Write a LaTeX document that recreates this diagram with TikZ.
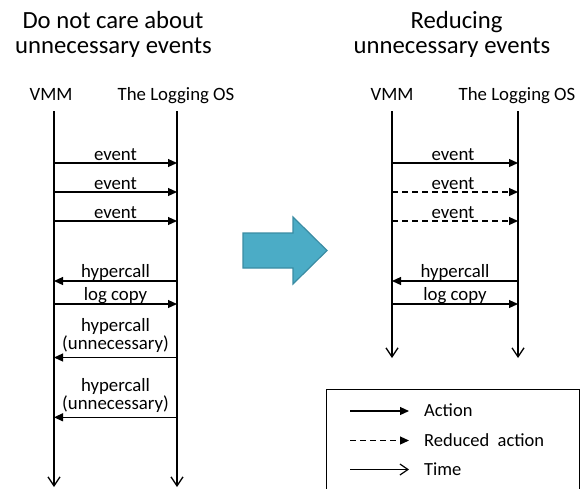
\documentclass[tikz,border=0pt]{standalone}
\usepackage{fontspec}
\setmainfont{Carlito}
\usetikzlibrary{arrows.meta}
\definecolor{bigarrowfill}{HTML}{4BACC6}
\definecolor{bigarrowline}{HTML}{3A8CA3}

\begin{document}
\begin{tikzpicture}[x=1pt,y=-1pt,
  lifeline/.style={line width=1.4pt, -{Straight Barb[length=9pt,width=12pt,line width=1.3pt]}},
  msg/.style={line width=1.2pt, -{Triangle[length=9pt,width=8pt]}},
  reduced/.style={msg, dash pattern=on 6pt off 4pt},
  lbl/.style={font=\fontsize{18.8}{16}\selectfont, anchor=base, inner sep=0pt, align=center},
  head/.style={font=\fontsize{18.8}{20}\selectfont, anchor=base, inner sep=0pt},
  ttl/.style={font=\fontsize{24.7}{28}\selectfont, anchor=base, inner sep=0pt},
  legtxt/.style={font=\fontsize{18.5}{20}\selectfont, anchor=base west, inner sep=0pt},
]
\clip (0,0) rectangle (581,488);

% ---------- titles ----------
\node[ttl] (t1a) at (113,28) {Do not care about};
\node[ttl] (t1b) at (113.5,53.5) {unnecessary events};
\node[ttl] (t2a) at (456.5,28) {Reducing};
\node[ttl] (t2b) at (452,53.5) {unnecessary events};

% ---------- participant headers ----------
\node[head] (vmmA) at (51,100) {VMM};
\node[head] (osA)  at (176,100) {The Logging OS};
\node[head] (vmmB) at (392,100) {VMM};
\node[head] (osB)  at (517,100) {The Logging OS};

% ---------- lifelines ----------
\coordinate (vA) at (54,111);  \coordinate (vAend) at (54,487);
\coordinate (oA) at (177,111); \coordinate (oAend) at (177,487);
\coordinate (vB) at (392,111); \coordinate (vBend) at (392,358);
\coordinate (oB) at (518,111); \coordinate (oBend) at (518,358);
\draw[lifeline] (vA) -- (vAend);
\draw[lifeline] (oA) -- (oAend);
\draw[lifeline] (vB) -- (vBend);
\draw[lifeline] (oB) -- (oBend);

% ---------- left: every event is delivered ----------
\foreach \y/\n in {163/1,192/2,221/3}{
  \draw[msg] (vA |- 0,\y) -- (oA |- 0,\y);
  \node[lbl] (evA\n) at (115.5,\y-2.5) {event};
}
\draw[msg] (oA |- 0,281) -- (vA |- 0,281);
\node[lbl] (hcA) at (115.5,277.5) {hypercall};
\draw[msg] (vA |- 0,304) -- (oA |- 0,304);
\node[lbl] (lcA) at (115.5,300.5) {log copy};
% multi-line labels: base anchor sits on the last line
\draw[msg] (oA |- 0,357.5) -- (vA |- 0,357.5);
\node[lbl] (u1) at (115.5,349.3) {hypercall\\(unnecessary)};
\draw[msg] (oA |- 0,417.3) -- (vA |- 0,417.3);
\node[lbl] (u2) at (115.5,409.3) {hypercall\\(unnecessary)};

% ---------- right: redundant events are dropped ----------
\draw[msg] (vB |- 0,163) -- (oB |- 0,163);
\node[lbl] (evB1) at (453,160.5) {event};
\draw[reduced] (vB |- 0,192) -- (oB |- 0,192);
\node[lbl] (evB2) at (453,189.5) {event};
\draw[reduced] (vB |- 0,221) -- (oB |- 0,221);
\node[lbl] (evB3) at (453,218.5) {event};
\draw[msg] (oB |- 0,281) -- (vB |- 0,281);
\node[lbl] (hcB) at (455,277.5) {hypercall};
\draw[msg] (vB |- 0,304) -- (oB |- 0,304);
\node[lbl] (lcB) at (455,300.5) {log copy};

% ---------- transition arrow ----------
\filldraw[fill=bigarrowfill, draw=bigarrowline, line width=1.2pt, line join=miter]
  (243,233) -- (293,233) -- (293,217) -- (327,250.5) -- (293,284) -- (293,268) -- (243,268) -- cycle;

% ---------- legend ----------
\draw[line width=0.9pt] (326,495) rectangle (579,389);
\coordinate (k1s) at (350,411); \coordinate (k1e) at (409,411);
\coordinate (k2s) at (350,440.5); \coordinate (k2e) at (409,440.5);
\coordinate (k3s) at (350,469.5); \coordinate (k3e) at (409,469.5);
\draw[msg] (k1s) -- (k1e);
\draw[reduced] (k2s) -- (k2e);
\draw[line width=1.2pt, -{Straight Barb[length=8pt,width=11pt,line width=1.2pt]}] (k3s) -- (k3e);
\node[legtxt] (a1) at (424,416.7) {Action};
\node[legtxt] (a2) at (424,446) {Reduced\ \ action};
\node[legtxt] (a3) at (424,475) {Time};
\end{tikzpicture}
\end{document}
